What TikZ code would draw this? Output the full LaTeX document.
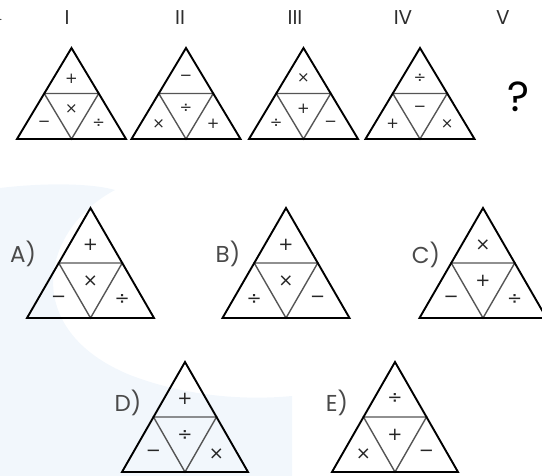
\documentclass[tikz,border=0pt]{standalone}
\usepackage{fontspec}
\setmainfont{Poppins}
\newfontfamily\opsfont{DejaVu Sans}
\definecolor{labelgray}{HTML}{2E2E2E}
\definecolor{answergray}{HTML}{4A4A4A}
\definecolor{innergray}{HTML}{555555}
\definecolor{washblue}{HTML}{F2F7FC}

\tikzset{
  outer/.style={draw=black,line width=1.9pt,line join=miter},
  inner/.style={draw=innergray,line width=1.4pt},
  opsym/.style={text=black!85,inner sep=0pt},
  numeral/.style={text=labelgray,font=\fontsize{20}{20}\selectfont,inner sep=0pt},
  choice/.style={text=answergray,font=\fontsize{23}{23}\selectfont,inner sep=0pt}
}

% #1 centre x, #2 apex y, #3 half base, #4 height,
% #5 top, #6 middle, #7 left, #8 right, #9 symbol size
\newcommand{\opstriangle}[9]{%
  \begin{scope}[shift={(#1,#2)}]
    \coordinate (apex) at (0,0);
    \coordinate (bl) at ({-#3},{#4});
    \coordinate (br) at ({#3},{#4});
    \coordinate (ml) at ({-#3/2},{#4/2});
    \coordinate (mr) at ({#3/2},{#4/2});
    \coordinate (bm) at (0,{#4});
    \draw[inner] (ml) -- (mr) -- (bm) -- cycle;
    \draw[outer] (apex) -- (br) -- (bl) -- cycle;
    \node[opsym,font=\opsfont\fontsize{#9}{#9}\selectfont] (top) at (0,{#4/3}) {#5};
    \node[opsym,font=\opsfont\fontsize{#9}{#9}\selectfont] (mid) at (0,{2*#4/3}) {#6};
    \node[opsym,font=\opsfont\fontsize{#9}{#9}\selectfont] (left) at ({-#3/2},{5*#4/6}) {#7};
    \node[opsym,font=\opsfont\fontsize{#9}{#9}\selectfont] (right) at ({#3/2},{5*#4/6}) {#8};
  \end{scope}%
}

\begin{document}
\begin{tikzpicture}[x=1pt,y=-1pt]

\useasboundingbox (0,0) rectangle (542,476);

% faint watermark
\fill[washblue] (0,188) .. controls (50,182) and (95,184) .. (115,190)
  .. controls (40,230) and (20,330) .. (130,375)
  .. controls (190,398) and (250,400) .. (292,396)
  -- (292,476) -- (0,476) -- cycle;

% row of numerals
\node at (1,20) {.};
\node[numeral] (n1) at (67,18) {I};
\node[numeral] (n2) at (180,18) {II};
\node[numeral] (n3) at (295,18) {III};
\node[numeral] (n4) at (403,18) {IV};
\node[numeral] (n5) at (503,18) {V};

% sequence
\opstriangle{71.5}{48}{54.5}{91}{+}{×}{−}{÷}{15}
\opstriangle{186}{48}{54.5}{91}{−}{÷}{×}{+}{15}
\opstriangle{303.5}{48}{54.5}{91}{×}{+}{÷}{−}{15}
\opstriangle{420}{48}{54.5}{91}{÷}{−}{+}{×}{15}
\node[text=black,font=\fontsize{42}{42}\selectfont,inner sep=0pt] (ask) at (519,97) {?};

% choices
\node[choice] (la) at (23,254) {A)};
\opstriangle{90.5}{208}{63.5}{110}{+}{×}{−}{÷}{18}
\node[choice] (lb) at (228,254) {B)};
\opstriangle{286}{208}{63.5}{110}{+}{×}{÷}{−}{18}
\node[choice] (lc) at (426,255) {C)};
\opstriangle{483}{208}{63.5}{110}{×}{+}{−}{÷}{18}
\node[choice] (ld) at (128,403) {D)};
\opstriangle{185}{362}{63}{110}{+}{÷}{−}{×}{18}
\node[choice] (le) at (337,403) {E)};
\opstriangle{395}{362}{63}{110}{÷}{+}{×}{−}{18}

\end{tikzpicture}
\end{document}
